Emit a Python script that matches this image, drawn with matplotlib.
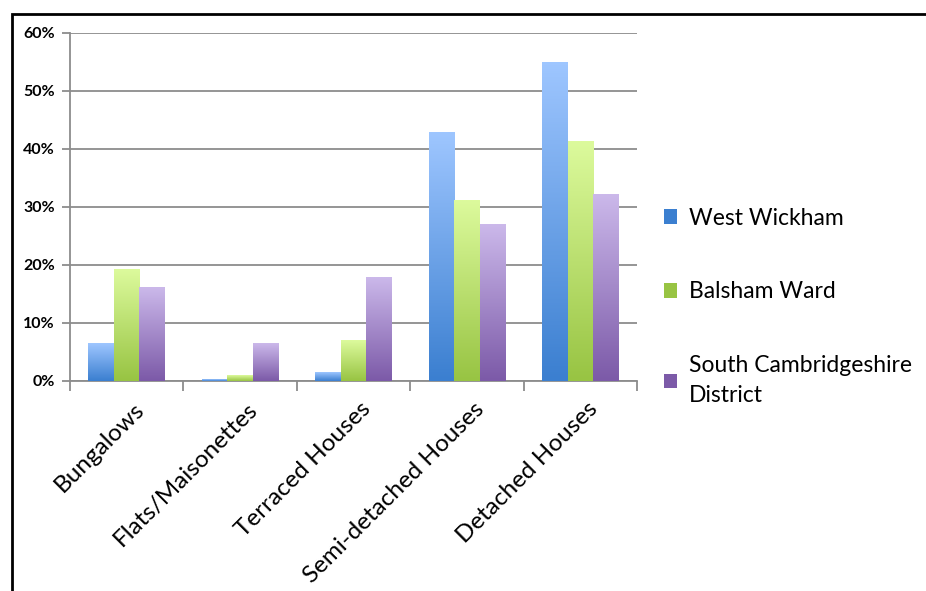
import numpy as np
import matplotlib
matplotlib.use("Agg")
import matplotlib.pyplot as plt
from matplotlib.colors import LinearSegmentedColormap
from matplotlib.patches import Rectangle, Patch
from matplotlib.ticker import FuncFormatter

plt.rcParams['font.family'] = ['Lato', 'DejaVu Sans']

categories = ["Bungalows", "Flats/Maisonettes", "Terraced Houses",
              "Semi-detached Houses", "Detached Houses"]
series_names = ["West Wickham", "Balsham Ward", "South Cambridgeshire\nDistrict"]
west_wickham = [6.4, 0.3, 1.5, 42.9, 55.0]
balsham_ward = [19.3, 0.9, 6.9, 31.2, 41.3]
south_cambs = [16.2, 6.4, 17.8, 26.9, 32.1]
yticks = [0, 10, 20, 30, 40, 50, 60]

# (top colour, bottom colour) for the gradient fills
grads = [("#9ec6ff", "#3b7fd0"), ("#dcfa9c", "#98c443"), ("#cbb8ea", "#7c5aa8")]

fig = plt.figure(figsize=(9.26, 5.91), dpi=100)
ax = fig.add_axes([70/926, 1-381/591, 567/926, 348/591])

x = np.arange(len(categories))
w = 0.225
allvals = [west_wickham, balsham_ward, south_cambs]
for i, vals in enumerate(allvals):
    bars = ax.bar(x + (i-1)*w, vals, width=w, color='none', edgecolor='none', zorder=3)
    cmap = LinearSegmentedColormap.from_list("g%d" % i, [grads[i][1], grads[i][0]])
    for b in bars:
        x0 = b.get_x()
        h = b.get_height()
        if h <= 0:
            continue
        grad = np.linspace(0, 1, 100).reshape(-1, 1)
        ax.imshow(grad, extent=(x0, x0 + b.get_width(), 0, h), origin='lower',
                  cmap=cmap, aspect='auto', zorder=3, interpolation='bilinear')

ax.set_xlim(-0.5, len(categories) - 0.5)
ax.set_ylim(0, 60)
ax.set_yticks(yticks)
ax.yaxis.set_major_formatter(FuncFormatter(lambda v, p: "%d%%" % v))
ax.grid(axis='y', color='#8c8c8c', linewidth=1.3, zorder=0)
ax.set_axisbelow(True)

for s in ['top', 'right']:
    ax.spines[s].set_visible(False)
for s in ['left', 'bottom']:
    ax.spines[s].set_color('#8c8c8c')
    ax.spines[s].set_linewidth(1.3)

ax.set_xticks(np.arange(len(categories) + 1) - 0.5)
ax.set_xticklabels([])
ax.tick_params(axis='x', length=7, width=1.3, color='#8c8c8c', direction='out')
ax.tick_params(axis='y', length=6, width=1.3, color='#8c8c8c', labelsize=11.5, pad=5)
for lab in ax.get_yticklabels():
    lab.set_fontweight('bold')

for i, c in enumerate(categories):
    ax.text(i + 0.06, -3.0, c, rotation=45, ha='right', va='top',
            rotation_mode='anchor', fontsize=17.5)

handles = [Patch(facecolor=grads[i][1], edgecolor='none') for i in range(3)]
leg = fig.legend(handles, series_names, loc='upper left', bbox_to_anchor=(643/926, 1-187/591),
                 frameon=False, fontsize=16.5, handlelength=0.6, handleheight=0.6,
                 handletextpad=0.5, labelspacing=2.3)
for t in leg.get_texts():
    t.set_linespacing(1.55)

fig.patches.append(Rectangle((12/926, -0.1), 1.2, 1 - 14/591 + 0.1, transform=fig.transFigure,
                             fill=False, edgecolor='black', linewidth=2))

fig.savefig("out.png", dpi=100)
